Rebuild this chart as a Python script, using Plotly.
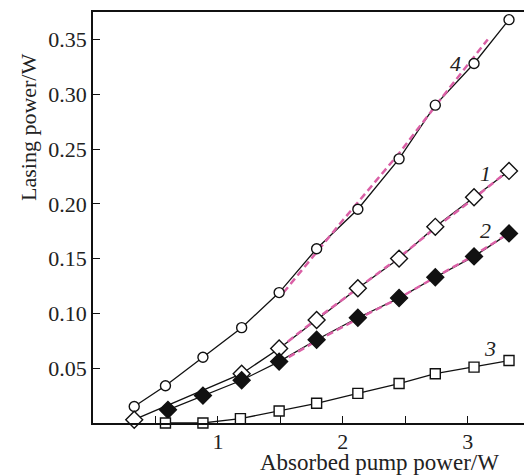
import plotly.graph_objects as go

# ---- data ----
x4 = [0.33, 0.58, 0.88, 1.19, 1.49, 1.79, 2.12, 2.45, 2.74, 3.05, 3.33]
y4 = [0.015, 0.034, 0.060, 0.087, 0.119, 0.159, 0.195, 0.241, 0.290, 0.328, 0.368]

x1 = [0.33, 1.19, 1.49, 1.79, 2.12, 2.45, 2.74, 3.05, 3.33]
y1 = [0.003, 0.045, 0.068, 0.094, 0.123, 0.150, 0.179, 0.206, 0.230]

x2 = [0.60, 0.88, 1.19, 1.49, 1.79, 2.12, 2.45, 2.74, 3.05, 3.33]
y2 = [0.012, 0.025, 0.039, 0.056, 0.076, 0.096, 0.114, 0.133, 0.152, 0.173]

x3 = [0.58, 0.88, 1.18, 1.49, 1.79, 2.12, 2.45, 2.74, 3.05, 3.33]
y3 = [0.000, 0.000, 0.004, 0.011, 0.018, 0.027, 0.036, 0.045, 0.051, 0.057]

# fitted (dashed) curves
fx4 = [1.525, 2.00, 2.45, 2.80, 3.16]
fy4 = [0.119, 0.185, 0.246, 0.298, 0.350]
fx1 = [1.49, 1.79, 2.12, 2.45, 2.74, 3.05, 3.30]
fy1 = [0.068, 0.095, 0.123, 0.151, 0.178, 0.205, 0.228]
fx2 = [1.49, 1.79, 2.12, 2.45, 2.74, 3.05, 3.30]
fy2 = [0.055, 0.075, 0.095, 0.114, 0.133, 0.153, 0.171]

curve_labels = ["4", "1", "2", "3"]
label_x = [2.90, 3.14, 3.14, 3.18]
label_y = [0.328, 0.228, 0.176, 0.068]

xtick_vals = [0.5, 1, 1.5, 2, 2.5, 3]
xtick_text = ["", "1", "", "2", "", "3"]
ytick_vals = [0.05, 0.10, 0.15, 0.20, 0.25, 0.30, 0.35]
ytick_text = ["0.05", "0.10", "0.15", "0.20", "0.25", "0.30", "0.35"]

FONT = "Liberation Serif"
TXT = "#222222"
LINE = "#111111"
PINK = "#da60a6"

fig = go.Figure()

series = [
    (x4, y4, "circle", 10, "white"),
    (x1, y1, "diamond", 13, "white"),
    (x2, y2, "diamond", 13, LINE),
    (x3, y3, "square", 10, "white"),
]

# black connecting lines
for sx, sy, *_ in series:
    fig.add_trace(go.Scatter(x=sx, y=sy, mode="lines",
                             line=dict(color=LINE, width=1.3), hoverinfo="skip"))

# pink dashed fits on top of lines
for fx, fy in [(fx4, fy4), (fx1, fy1), (fx2, fy2)]:
    fig.add_trace(go.Scatter(x=fx, y=fy, mode="lines",
                             line=dict(color=PINK, width=2.5, dash="7px,4px"),
                             hoverinfo="skip"))

# markers on top
for sx, sy, sym, sz, fill in series:
    fig.add_trace(go.Scatter(x=sx, y=sy, mode="markers", cliponaxis=False,
                             marker=dict(symbol=sym, size=sz, color=fill,
                                         line=dict(color=LINE, width=1.4))))

for t, lx, ly in zip(curve_labels, label_x, label_y):
    fig.add_annotation(x=lx, y=ly, text="<i>%s</i>" % t, showarrow=False,
                       font=dict(family=FONT, size=22, color=TXT))

fig.add_annotation(x=-0.088, y=0, yref="y", text="0", showarrow=False,
                   yanchor="middle", yshift=-16,
                   font=dict(family=FONT, size=22, color=TXT))
fig.add_annotation(xref="paper", yref="paper", x=(379 - 93) / 431, y=(423 - 462) / 411,
                   text="Absorbed pump power/W", showarrow=False,
                   xanchor="center", yanchor="middle",
                   font=dict(family=FONT, size=23, color=TXT))
fig.add_annotation(xref="paper", yref="paper", x=(28 - 93) / 431, y=(423 - 128) / 411,
                   text="Lasing power/W", showarrow=False, textangle=-90,
                   xanchor="center", yanchor="middle",
                   font=dict(family=FONT, size=22, color=TXT))

fig.update_xaxes(range=[0, 3.45], showgrid=False, zeroline=False,
                 showline=True, linecolor=LINE, linewidth=1.5, mirror=True,
                 ticks="inside", ticklen=7, tickwidth=1.3, tickcolor=LINE,
                 tickvals=xtick_vals, ticktext=xtick_text, ticklabelstandoff=-2,
                 tickfont=dict(family=FONT, size=22, color=TXT))
fig.update_yaxes(range=[0, 0.375], showgrid=False, zeroline=False,
                 showline=True, linecolor=LINE, linewidth=1.5,
                 ticks="inside", ticklen=7, tickwidth=1.3, tickcolor=LINE,
                 tickvals=ytick_vals, ticktext=ytick_text,
                 tickfont=dict(family=FONT, size=22, color=TXT))

fig.update_layout(width=524, height=475, showlegend=False,
                  margin=dict(l=93, r=0, t=12, b=52),
                  paper_bgcolor="white", plot_bgcolor="white")

fig.write_html("out.html")
